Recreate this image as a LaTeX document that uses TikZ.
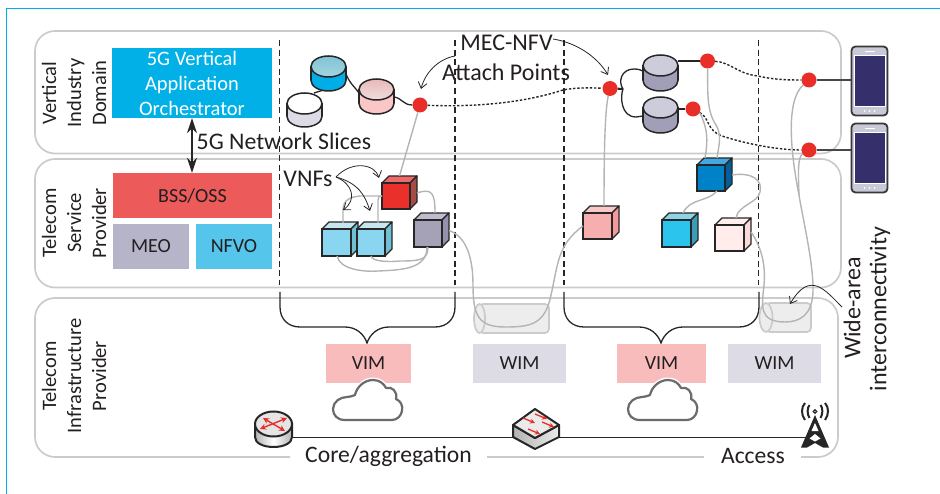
\documentclass[tikz,border=0pt]{standalone}
\usepackage{fontspec}
\setmainfont{Carlito}
\usetikzlibrary{arrows.meta,calc}
\definecolor{txt}{HTML}{231F20}
\definecolor{framec}{HTML}{00AEEF}
\definecolor{panelc}{HTML}{CBCBCB}
\definecolor{wirec}{HTML}{B4B4B4}
\definecolor{dotc}{HTML}{E82E26}
\definecolor{inkc}{HTML}{262626}
\definecolor{phonec}{HTML}{C9C9D8}
\newcommand{\hexdef}[1]{\definecolor{HTML#1}{HTML}{#1}}
\hexdef{35306B}\hexdef{00B0E6}\hexdef{EC5A5A}\hexdef{B5B4C9}\hexdef{55C5EC}\hexdef{F9BCBC}\hexdef{DDDCE6}
\hexdef{7EC4D6}\hexdef{A6D4E0}\hexdef{00ADE6}\hexdef{E8B9B9}\hexdef{F1DDDD}\hexdef{FAC6C6}\hexdef{CDCCDA}\hexdef{A19FB8}
\hexdef{E9302A}\hexdef{EE6A6A}\hexdef{A64B45}\hexdef{8AD6F0}\hexdef{C8E6F0}\hexdef{6FC0D2}\hexdef{A5A2B8}\hexdef{BEBCCD}\hexdef{9391AD}
\hexdef{F7AEAE}\hexdef{FAC8C8}\hexdef{F49A9A}\hexdef{2AC4EC}\hexdef{8FD3E4}\hexdef{3A9DB5}\hexdef{FFECEB}\hexdef{FFF0EE}\hexdef{FAD9D9}
\hexdef{0082C8}\hexdef{42A8DF}\hexdef{005F9C}
\newcommand{\fs}[1]{\fontsize{#1}{#1}\selectfont}
\tikzset{
  x=1pt,y=-1pt,
  panel/.style={draw=panelc,line width=1.7pt,rounded corners=20pt},
  lab/.style={text=txt,font=\fs{20},align=center,inner sep=0pt},
  sidelab/.style={lab,rotate=90,font=\fs{20.5},align=center},
  fbox/.style={inner sep=0pt,text=txt,font=\fs{20}},
  sep/.style={draw=inkc,line width=1.3pt,dash pattern=on 6pt off 3.6pt},
  brace/.style={draw=inkc,line width=1.3pt},
  wire/.style={draw=wirec,line width=1.4pt},
  dbline/.style={draw=inkc,line width=1.3pt},
  dotted link/.style={draw=inkc,line width=1.4pt,dash pattern=on 2.4pt off 1.8pt},
  rdot/.style={circle,fill=dotc,inner sep=0pt,minimum size=15pt},
  callout/.style={draw=inkc,line width=.8pt,-{Straight Barb[length=6pt,width=9pt]}},
  pipe/.style={draw=panelc,line width=1.7pt,fill=black!7},
  clouds/.style={draw=black!58,line width=2.2pt,fill=white,line join=round},
}
% name, x1,y1,x2,y2, front, top, side
\newcommand{\vcube}[8]{%
  \path[draw=inkc,line width=1.3pt,line join=round,fill=#7] (#2,#3) -- ++(7,-7) -- (#4+7,#3-7) -- (#4,#3) -- cycle;
  \path[draw=inkc,line width=1.3pt,line join=round,fill=#8] (#4,#3) -- (#4+7,#3-7) -- (#4+7,#5-7) -- (#4,#5) -- cycle;
  \node[draw=inkc,line width=1.3pt,fill=#6,inner sep=0pt,minimum width=#4pt-#2pt,minimum height=#5pt-#3pt] (#1) at ({(#2+#4)/2},{(#3+#5)/2}) {};
  \coordinate (#1-t) at ({(#2+#4)/2+3.5},#3-7);
  \coordinate (#1-r) at (#4+7,{(#3+#5)/2-3});
  \coordinate (#1-b) at ({(#2+#4)/2},#5);
  \coordinate (#1-l) at (#2,{(#3+#5)/2});
}
% name, x1,x2,top,bottom, topcolours, bodycolour
\newcommand{\dbcyl}[7]{%
  \fill[#7,draw=inkc,line width=1.5pt] ({(#2+#3)/2},#5-10.5) ellipse [x radius={(#3-#2)/2},y radius=10.5];
  \fill[#7] (#2,#4+10.5) rectangle (#3,#5-10.5);
  \draw[inkc,line width=1.5pt] (#2,#4+10.5) -- (#2,#5-10.5) (#3,#4+10.5) -- (#3,#5-10.5);
  \path[draw=inkc,line width=1.5pt,#6] ({(#2+#3)/2},#4+10.5) ellipse [x radius={(#3-#2)/2},y radius=10.5];
  \coordinate (#1) at ({(#2+#3)/2},{(#4+#5)/2});
  \coordinate (#1-e) at (#3,#4+12);
  \coordinate (#1-w) at (#2,#4+12);
}
\newcommand{\phone}[3]{%
  \node[draw=black!78,line width=1.8pt,fill=phonec,rounded corners=4pt,inner sep=0pt,minimum width=36pt,minimum height=69pt] (#1) at (#2,#3) {};
  \fill[white] (#2-16,#3-25.5) rectangle (#2+16,#3+26);
  \fill[HTML35306B] (#2-15,#3-24.5) rectangle (#2+15,#3+25);
  \fill[white] (#2-5,#3-30) rectangle (#2+5,#3-28.5);
  \fill[white] (#2-5,#3+30) circle (1) (#2,#3+30) circle (1) (#2+5,#3+30) circle (1);
}
\begin{document}
\begin{tikzpicture}
\useasboundingbox (0,0) rectangle (940,494);
% outer frame
\draw[framec,line width=.9pt] (6.5,494) -- (6.5,8.5) -- (940,8.5);
% panels
\draw[panel] (35,31) rectangle (841,153.5);
\draw[panel] (35,159) rectangle (841,287.5);
\draw[panel] (290,457) -- (35,457) -- (35,298) -- (838,298) -- (838,457) -- (801,457);
\draw[panelc,line width=1.7pt] (487,457) -- (704,457);
% left labels
\node[sidelab] (dom1) at (74,93) {Vertical\\[4.5pt]Industry\\[4.5pt]Domain};
\node[sidelab] (dom2) at (74,223) {Telecom\\[4.5pt]Service\\[4.5pt]Provider};
\node[sidelab] (dom3) at (74,376) {Telecom\\[4.5pt]Infrastructure\\[4.5pt]Provider};
% left boxes
\node[fbox,fill=HTML00B0E6,text=white,minimum width=160pt,minimum height=70pt,align=center,font=\fs{20.5}] (orch) at (192,83) {5G Vertical\\[4.5pt]Application\\[4.5pt]Orchestrator};
\node[fbox,fill=HTMLEC5A5A,minimum width=159pt,minimum height=45pt] (bss) at (192.5,195.5) {BSS/OSS};
\node[fbox,fill=HTMLB5B4C9,minimum width=76pt,minimum height=45pt] (meo) at (151,246.5) {MEO};
\node[fbox,fill=HTML55C5EC,minimum width=76pt,minimum height=45pt] (nfvo) at (234,246.5) {NFVO};
\draw[inkc,line width=1.3pt,{Stealth[length=15pt,width=10pt]}-{Stealth[length=15pt,width=10pt]}] (orch.south -| 192,0) -- (bss.north -| 192,0);
\node[lab,font=\fs{23.8},anchor=west] (slices) at (196.5,141) {5G Network Slices};
% separators
\foreach \n/\xx in {a/279.5,b/455,c/564,d/758.5}{\draw[sep] (\xx,40) -- (\xx,285);}
% braces
\draw[brace] (280,292) -- (280,307) .. controls (280,319) and (288,327) .. (300,327) -- (345,327) .. controls (356,327) and (364,334) .. (367,343) .. controls (370,334) and (378,327) .. (389,327) -- (435,327) .. controls (447,327) and (455,319) .. (455,307) -- (455,292);
\draw[brace] (564,292) -- (564,307) .. controls (564,319) and (572,327) .. (584,327) -- (639,327) .. controls (650,327) and (658,334) .. (661,343) .. controls (664,334) and (672,327) .. (683,327) -- (739,327) .. controls (751,327) and (759,319) .. (759,307) -- (759,292);
% VIM / WIM
\node[fbox,fill=HTMLF9BCBC,minimum width=85pt,minimum height=39pt] (vim1) at (368.5,363.5) {VIM};
\node[fbox,fill=HTMLDDDCE6,minimum width=93pt,minimum height=39pt] (wim1) at (519.5,363.5) {WIM};
\node[fbox,fill=HTMLF9BCBC,minimum width=89pt,minimum height=39pt] (vim2) at (661.5,363.5) {VIM};
\node[fbox,fill=HTMLDDDCE6,minimum width=93pt,minimum height=39pt] (wim2) at (774.5,363.5) {WIM};
% clouds
\foreach \dx in {0,295}{
\begin{scope}[xshift=\dx pt]
\draw[white,line width=5pt,line join=round,fill=white] (345,420) .. controls (337,420) and (333,415) .. (333,409) .. controls (333,402) and (340,397) .. (347,397) .. controls (350,397) and (352,396) .. (355,395) .. controls (357,386) and (365,380) .. (373,380) .. controls (380,380) and (384,384) .. (386,388) .. controls (392,386) and (398,392) .. (396,399) .. controls (401,401) and (403,406) .. (402,411) .. controls (401,416) and (397,420) .. (392,420) -- cycle;
\draw[clouds] (345,420) .. controls (337,420) and (333,415) .. (333,409) .. controls (333,402) and (340,397) .. (347,397) .. controls (350,397) and (352,396) .. (355,395) .. controls (357,386) and (365,380) .. (373,380) .. controls (380,380) and (384,384) .. (386,388) .. controls (392,386) and (398,392) .. (396,399) .. controls (401,401) and (403,406) .. (402,411) .. controls (401,416) and (397,420) .. (392,420) -- cycle;
\end{scope}}
% bottom labels
\node[lab,font=\fs{23.6}] (core) at (388.5,456.5) {Core/aggregation};
\node[lab,font=\fs{23.6}] (access) at (753,456.5) {Access};
% network devices
\coordinate (routerc) at (273.5,437.5);
\coordinate (switchc) at (535,437.5);
\coordinate (towerc) at (815,437.5);
\draw[inkc,line width=1.3pt] (routerc) -- (switchc) -- (towerc);
% router
\draw[inkc,line width=2pt,left color=black!30,right color=black!30,middle color=white] (255,424) -- (255,437) .. controls (255,443) and (263,447) .. (273.5,447) .. controls (284,447) and (292,443) .. (292,437) -- (292,424) -- cycle;
\draw[inkc,line width=2pt,fill=black!10] (273.5,424) ellipse [x radius=18.5,y radius=12.5];
\draw[dotc,line width=1.4pt,{Stealth[length=6pt,width=6pt]}-{Stealth[length=6pt,width=6pt]}] (260,429) -- (287,418);
\draw[dotc,line width=1.4pt,{Stealth[length=6pt,width=6pt]}-{Stealth[length=6pt,width=6pt]}] (263,418) -- (285,431);
% switch
\draw[inkc,line width=2pt,line join=round,left color=black!30,right color=black!8] (513,425) -- (513,437) -- (535,449) -- (559,437) -- (559,425) -- (535,438) -- cycle;
\draw[inkc,line width=2pt,line join=round,fill=black!8] (535,409) -- (559,425) -- (535,438) -- (513,425) -- cycle;
\foreach \ax/\ay in {523/418,535/414,528/429,542/422}{
  \draw[dotc,line width=1.3pt,-{Stealth[length=5pt,width=5pt]}] (\ax,\ay) -- ++(12,5);
}
% tower
\fill[inkc] (815,415) -- (829,447.5) -- (823,447.5) -- (815,443) -- (807,447.5) -- (801,447.5) -- cycle;
\fill[white] (815,423) -- (811.5,431) -- (818.5,431) -- cycle (815,434) -- (809.5,438.5) -- (815,441.5) -- (820.5,438.5) -- cycle;
\draw[inkc,line width=1.2pt] (815,411.5) circle (1.8);
\draw[inkc,line width=2pt] (809.5,405) .. controls (807,408) and (807,414) .. (809.5,418) (820.5,405) .. controls (823,408) and (823,414) .. (820.5,418);
\draw[inkc,line width=2pt] (805,403) .. controls (801,407) and (801,415) .. (805,420) (825,403) .. controls (829,407) and (829,415) .. (825,420);
% pipes
\draw[pipe,rounded corners=4pt] (479,304) rectangle (549,333);
\draw[pipe] (479.5,318.5) ellipse [x radius=5.5,y radius=14.5];
\draw[pipe,rounded corners=4pt] (766,303) rectangle (811,332);
\draw[pipe] (766,317.5) ellipse [x radius=6.5,y radius=14.5];
% databases
\dbcyl{dbc}{311}{346}{56}{91}{top color=HTML7EC4D6,bottom color=HTMLA6D4E0}{HTML00ADE6}
\dbcyl{dbw}{287}{322}{93}{127}{fill=white}{HTMLDDDCE6}
\dbcyl{dbp}{359}{394}{79}{114}{top color=HTMLE8B9B9,bottom color=HTMLF1DDDD}{HTMLFAC6C6}
\dbcyl{dbu}{643}{678}{55}{91}{fill=HTMLCDCCDA}{HTMLA19FB8}
\dbcyl{dbl}{643}{678}{97}{133}{fill=HTMLCDCCDA}{HTMLA19FB8}
% cubes
\vcube{cred}{382}{183}{410}{209}{HTMLE9302A}{HTMLEE6A6A}{HTMLA64B45}
\vcube{cb1}{322}{229}{351}{256}{HTML8AD6F0}{HTMLC8E6F0}{HTML6FC0D2}
\vcube{cb2}{357}{229}{385}{256}{HTML8AD6F0}{HTMLC8E6F0}{HTML6FC0D2}
\vcube{cgr}{414}{220}{442}{247}{HTMLA5A2B8}{HTMLBEBCCD}{HTML9391AD}
\vcube{cpk}{583}{213}{612}{239}{HTMLF7AEAE}{HTMLFAC8C8}{HTMLF49A9A}
\vcube{ccy}{662}{220}{691}{247}{HTML2AC4EC}{HTML8FD3E4}{HTML3A9DB5}
\vcube{ccr}{715}{225}{744}{251}{HTMLFFECEB}{HTMLFFF0EE}{HTMLFAD9D9}
\vcube{cdb}{697}{165}{725}{191}{HTML0082C8}{HTML42A8DF}{HTML005F9C}
% phones
\phone{ph1}{869.5}{81}
\phone{ph2}{869.5}{158}
% dots
\node[rdot] (d1) at (420,105) {};
\node[rdot] (d2) at (610,88.5) {};
\node[rdot] (d3) at (707.5,61) {};
\node[rdot] (d4) at (693,109) {};
\node[rdot] (d5) at (809,80) {};
\node[rdot] (d6) at (809,150) {};
% db links
\draw[dbline] (dbw-e) ++(-8,-12) -- (322,90.5);
\draw[dbline] (346,74) .. controls (350,84) and (355,87) .. (359,93);
\draw[dbline] (394,97) .. controls (402,98) and (403,105) .. (d1);
\draw[dbline] (dbu-e) ++(0,-6) -- (d3);
\draw[dbline] (dbl-e) -- (d4);
\draw[dbline,line width=2.2pt] (d2) -- (623,89);
\draw[dbline] (623,89) .. controls (618,82) and (621,69) .. (634,69) .. controls (638,69) and (641,70) .. (643,71);
\draw[dbline] (623,89) .. controls (620,97) and (621,117) .. (636,117) -- (643,116);
\draw[draw=black!72,line width=1.8pt] (d5) -- (ph1.west |- d5);
\draw[draw=black!72,line width=1.8pt] (d6) -- (ph2.west |- d6);
% dotted overlay links
\draw[dotted link] (d1) .. controls (470,107) and (520,104) .. (563,90) .. controls (578,87) and (595,88) .. (d2);
\draw[dotted link] (d3) .. controls (730,62) and (738,74) .. (758,76) .. controls (775,80) and (790,80) .. (d5);
\draw[dotted link] (d4) .. controls (710,118) and (706,130) .. (722,136) .. controls (750,145) and (780,150) .. (d6);
% grey wires
\draw[wire] (d1) -- (cred-t);
\draw[wire] (cred-r) .. controls (432,188) and (435,193) .. (435,213);
\draw[wire] (cred-l) -- (360,196) .. controls (350,197) and (343,200) .. (343,210) -- (343,223);
\draw[wire] (cred-l) .. controls (379,196) and (378,197) .. (378,200) -- (378,223);
\draw[wire] (337,256) .. controls (340,270) and (365,272) .. (378,271) .. controls (405,270) and (427,268) .. (427,247);
\draw[wire] (371,256) .. controls (372,262) and (390,262) .. (400,261) .. controls (420,261) and (428,260) .. (428,247);
\draw[wire] (cgr-r) .. controls (465,236) and (473,255) .. (473,285) .. controls (473,315) and (478,327) .. (505,327) .. controls (530,327) and (545,325) .. (551,295) .. controls (558,265) and (557,245) .. (cpk-l);
\draw[wire] (d2) .. controls (605,110) and (604,150) .. (604,206);
\draw[wire] (d3) .. controls (708,90) and (706,110) .. (716,125) .. controls (722,135) and (719,145) .. (717,158);
\draw[wire] (700,113) .. controls (708,130) and (708,140) .. (705,158);
\draw[wire] (cdb-b) ++(6,0) .. controls (708,202) and (690,198) .. (683,213);
\draw[wire] (cdb-r) .. controls (752,172) and (763,180) .. (760,192) .. controls (758,203) and (738,205) .. (736,218);
\draw[wire] (751,232) .. controls (760,245) and (766,262) .. (764,285) .. controls (762,305) and (758,322) .. (785,322) .. controls (800,322) and (812,315) .. (813,292) .. controls (814,265) and (802,215) .. (799,195) .. controls (790,150) and (786,100) .. (d5);
\draw[wire] (d6) .. controls (798,157) and (798,170) .. (799,195);
% callouts
\node[lab,font=\fs{24}] (mec) at (506.5,43) {MEC-NFV};
\node[lab,font=\fs{24}] (attach) at (506,72) {Attach Points};
\node[lab,font=\fs{24}] (vnfs) at (308,179) {VNFs};
\draw[callout] (455,56) .. controls (438,59) and (425,73) .. (421,89);
\draw[callout] (553,39) .. controls (578,43) and (598,58) .. (608,75);
\draw[callout] (336,177) .. controls (352,160) and (375,164) .. (379,178);
\draw[callout] (336,177) .. controls (358,183) and (365,195) .. (370,211);
\draw[callout] (336,177) .. controls (353,184) and (357,200) .. (343,210);
\draw[callout] (842,307) .. controls (825,290) and (810,270) .. (790,304);
\node[lab,rotate=90,font=\fs{24}] (wide) at (852,308) {Wide-area};
\node[lab,rotate=90,font=\fs{24}] (inter) at (880,309) {interconnectivity};
\end{tikzpicture}
\end{document}
